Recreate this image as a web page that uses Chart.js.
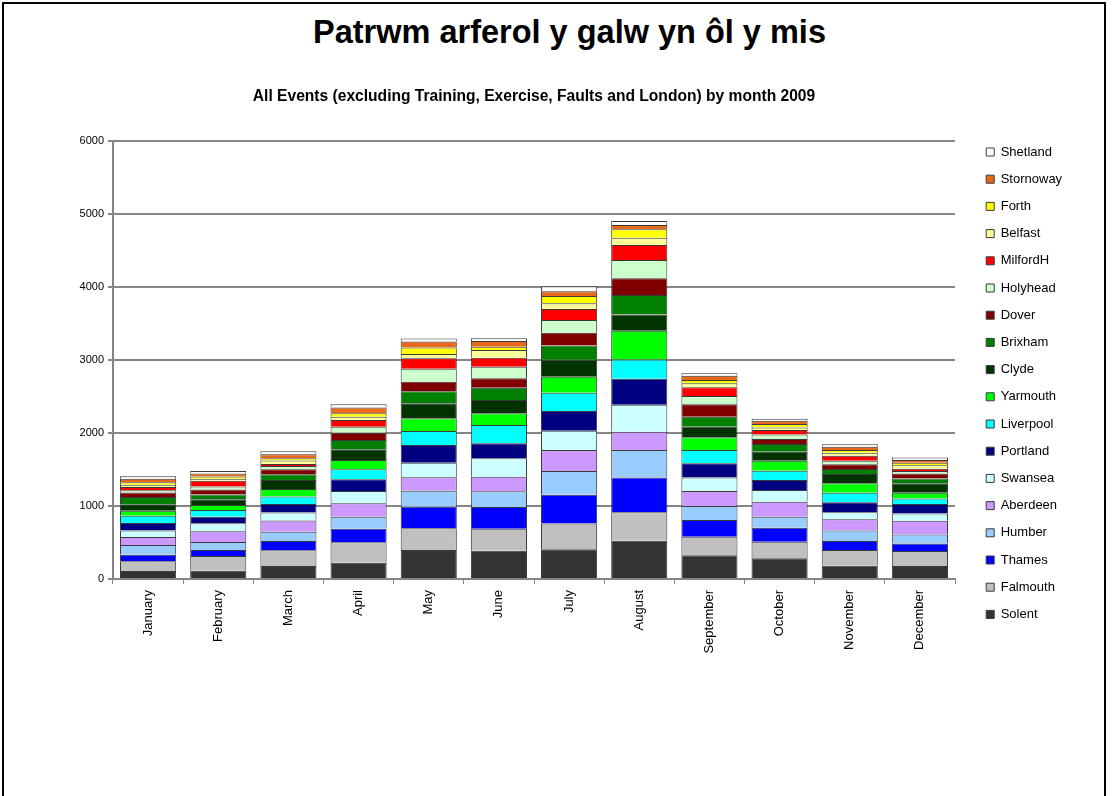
<!DOCTYPE html>
<html>
<head>
<meta charset="utf-8">
<script src="https://cdn.jsdelivr.net/npm/chart.js@4.4.1/dist/chart.umd.min.js"></script>
<style>
  html, body { margin: 0; padding: 0; background: #fff; }
  body { width: 1117px; height: 796px; position: relative; overflow: hidden; font-family: Arial, "Liberation Sans", sans-serif; }
  .frame { position: absolute; left: 2px; top: 2px; width: 1104px; height: 900px; border: 2px solid #000; box-sizing: border-box; }
  .heading { position: absolute; left: 0; top: 14px; width: 1139px; text-align: center; font-weight: bold; font-size: 32.5px; line-height: 36px; white-space: nowrap; color: #000; }
  #chart { position: absolute; left: 0; top: 0; }
</style>
</head>
<body>
<div class="frame"></div>
<div class="heading">Patrwm arferol y galw yn ôl y mis</div>
<canvas id="chart" width="1117" height="796"></canvas>
<script>
const months = ['January', 'February', 'March', 'April', 'May', 'June', 'July', 'August', 'September', 'October', 'November', 'December'];
const yTicks = [0, 1000, 2000, 3000, 4000, 5000, 6000];

// one array per station, bottom of the stack first
const solent    = [110, 114, 178, 224, 397, 388, 406, 525, 324, 283, 183, 178];
const falmouth  = [132, 201, 215, 279, 297, 301, 356, 388, 256, 228, 215, 205];
const thames    = [91, 82, 128, 187, 297, 297, 393, 479, 228, 192, 123, 105];
const humber    = [132, 110, 128, 164, 219, 215, 324, 374, 192, 151, 142, 123];
const aberdeen  = [110, 146, 151, 183, 183, 201, 288, 251, 205, 205, 155, 187];
const swansea   = [91, 110, 110, 169, 201, 251, 265, 370, 187, 160, 96, 100];
const portland  = [100, 91, 119, 160, 242, 205, 269, 356, 192, 137, 137, 128];
const liverpool = [100, 91, 100, 137, 192, 251, 251, 265, 183, 128, 132, 78];
const yarmouth  = [68, 68, 105, 128, 174, 160, 219, 393, 174, 137, 128, 78];
const clyde     = [91, 78, 123, 146, 205, 183, 233, 224, 146, 123, 128, 128];
const brixham   = [100, 68, 78, 128, 164, 169, 196, 265, 137, 105, 68, 68];
const dover     = [59, 68, 68, 100, 132, 128, 174, 230, 169, 68, 64, 68];
const holyhead  = [32, 41, 46, 82, 178, 160, 174, 251, 114, 64, 50, 32];
const milfordH  = [46, 78, 27, 91, 142, 123, 151, 205, 119, 59, 68, 32];
const belfast   = [30, 27, 46, 46, 59, 105, 78, 100, 55, 37, 41, 50];
const forth     = [35, 32, 32, 46, 91, 46, 100, 114, 46, 46, 37, 32];
const stornoway = [45, 41, 55, 78, 82, 78, 64, 59, 59, 46, 46, 37];
const shetland  = [35, 32, 41, 46, 41, 37, 70, 55, 32, 27, 32, 37];

const seriesNames = ['Solent', 'Falmouth', 'Thames', 'Humber', 'Aberdeen', 'Swansea', 'Portland', 'Liverpool', 'Yarmouth',
    'Clyde', 'Brixham', 'Dover', 'Holyhead', 'MilfordH', 'Belfast', 'Forth', 'Stornoway', 'Shetland'];
const seriesValues = [solent, falmouth, thames, humber, aberdeen, swansea, portland, liverpool, yarmouth,
    clyde, brixham, dover, holyhead, milfordH, belfast, forth, stornoway, shetland];
const seriesColors = ['#333333', '#c0c0c0', '#0000ff', '#99ccff', '#cc99ff', '#ccffff', '#000080', '#00ffff', '#00ff00',
    '#003300', '#008000', '#800000', '#ccffcc', '#ff0000', '#ffff99', '#ffff00', '#e8681c', '#ffffff'];

const font = 'Arial, "Liberation Sans", sans-serif';
const gridGray = '#858585';

const datasets = seriesNames.map((name, i) => ({
    label: name,
    data: seriesValues[i],
    backgroundColor: seriesColors[i],
    borderColor: '#3a3a3a',
    borderWidth: 1,
    barPercentage: 0.8,
    categoryPercentage: 1.0
}));

new Chart(document.getElementById('chart'), {
    type: 'bar',
    data: { labels: months, datasets: datasets },
    options: {
        responsive: false,
        animation: false,
        devicePixelRatio: 1,
        layout: { padding: { left: 63, right: 47, top: 0, bottom: 29.6 } },
        plugins: {
            title: {
                display: true,
                fullSize: false,
                text: 'All Events (excluding Training, Exercise, Faults and London) by month 2009',
                color: '#000',
                font: { family: font, size: 15.6, weight: 'bold', lineHeight: 1.2 },
                padding: { top: 87.6, bottom: 34.7 }
            },
            legend: {
                position: 'right',
                reverse: true,
                maxWidth: 98,
                labels: {
                    color: '#000',
                    font: { family: font, size: 13 },
                    boxWidth: 8,
                    boxHeight: 8,
                    padding: 14.2
                }
            },
            tooltip: { enabled: false }
        },
        scales: {
            x: {
                stacked: true,
                grid: { display: true, drawOnChartArea: false, drawTicks: true, tickLength: 5, color: gridGray, lineWidth: 1 },
                border: { display: true, color: gridGray, width: 2 },
                ticks: {
                    color: '#000',
                    font: { family: font, size: 13 },
                    minRotation: 90,
                    maxRotation: 90,
                    padding: 6,
                    autoSkip: false
                },
                afterFit: (scale) => { scale.height = 187.4; }
            },
            y: {
                stacked: true,
                min: 0,
                max: 6000,
                afterBuildTicks: (scale) => { scale.ticks = yTicks.map(v => ({ value: v })); },
                grid: { color: gridGray, lineWidth: 2, drawTicks: true, tickLength: 5 },
                border: { display: true, color: gridGray, width: 2 },
                ticks: {
                    color: '#000',
                    font: { family: font, size: 11 },
                    padding: 4,
                    callback: (value) => String(value)
                },
                afterFit: (scale) => { scale.width = 50; }
            },
            spacer: {
                type: 'linear',
                position: 'right',
                display: true,
                grid: { drawOnChartArea: false, drawTicks: false },
                border: { display: false },
                ticks: { display: false },
                afterFit: (scale) => { scale.width = 17; }
            }
        }
    }
});
</script>
</body>
</html>
